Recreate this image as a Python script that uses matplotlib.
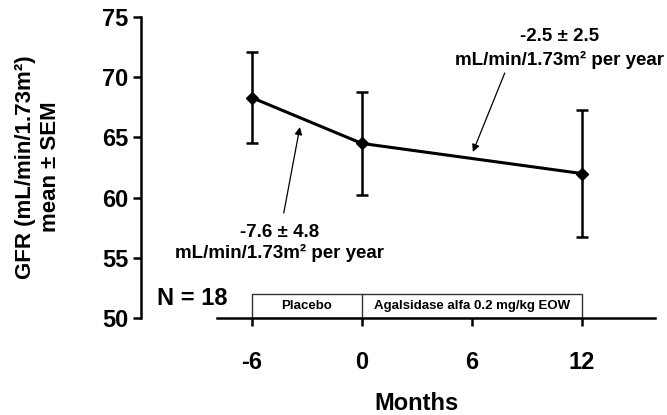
import matplotlib
matplotlib.use("Agg")
import matplotlib.pyplot as plt
from matplotlib.patches import Rectangle

plt.rcParams['font.family'] = ['Liberation Sans', 'DejaVu Sans']
plt.rcParams['font.weight'] = 'bold'

# Data
months = [-6, 0, 12]
gfr_mean = [68.3, 64.5, 62.0]
gfr_sem = [3.8, 4.3, 5.3]
x_ticks = [-6, 0, 6, 12]
y_ticks = [50, 55, 60, 65, 70, 75]
phases = ["Placebo", "Agalsidase alfa 0.2 mg/kg EOW"]
phase_bounds = [-6, 0, 12]
slope_placebo = "-7.6 ± 4.8"
slope_treat = "-2.5 ± 2.5"
unit_line = "mL/min/1.73m² per year"

W, H = 667, 415
fig = plt.figure(figsize=(W / 100, H / 100), dpi=100)
left_px, right_px, top_px, bot_px = 141, 655, 17, 318
ax = fig.add_axes([left_px / W, (H - bot_px) / H,
                   (right_px - left_px) / W, (bot_px - top_px) / H])
ax.set_xlim(-12.05, 16.0)
ax.set_ylim(50, 75)

ax.errorbar(months, gfr_mean, yerr=gfr_sem, color='black', lw=2.2,
            marker='D', markersize=6.5, elinewidth=1.8, capsize=4.5,
            capthick=1.8, zorder=3)

for s in ['top', 'right']:
    ax.spines[s].set_visible(False)
ax.spines['left'].set_linewidth(1.8)
ax.spines['bottom'].set_linewidth(1.8)
ax.spines['bottom'].set_bounds(-7.9, 16.0)

ax.set_xticks(x_ticks)
ax.set_xticklabels([str(t) for t in x_ticks])
ax.set_yticks(y_ticks)
ax.set_yticklabels([str(t) for t in y_ticks])
ax.tick_params(axis='x', direction='out', length=6, width=1.8, pad=18,
               labelsize=17)
ax.tick_params(axis='y', direction='out', length=6, width=1.8, pad=3,
               labelsize=17)
for lab in ax.get_xticklabels() + ax.get_yticklabels():
    lab.set_fontweight('bold')

# Treatment phase box
box = Rectangle((phase_bounds[0], 50), phase_bounds[-1] - phase_bounds[0], 2.0,
                fill=False, edgecolor='#333333', lw=1.0, zorder=2)
ax.add_patch(box)
ax.plot([phase_bounds[1], phase_bounds[1]], [50, 52], color='#333333', lw=1.0)
for i, name in enumerate(phases):
    cx = (phase_bounds[i] + phase_bounds[i + 1]) / 2
    ax.text(cx, 51.0, name, ha='center', va='center', fontsize=9.5,
            fontweight='bold')

ax.text(-11.18, 51.66, "N = 18", ha='left', va='center', fontsize=17,
        fontweight='bold')

# Annotations
ax.text(10.8, 73.34, slope_treat, ha='center', va='center', fontsize=13.5,
        fontweight='bold')
ax.text(10.8, 71.43, unit_line, ha='center', va='center', fontsize=13.5,
        fontweight='bold')
ax.annotate("", xy=(6.06, 63.79), xytext=(7.8, 70.35),
            arrowprops=dict(arrowstyle='-|>', lw=0.9, color='black',
                            mutation_scale=11, shrinkA=0, shrinkB=0))

ax.text(-4.47, 57.14, slope_placebo, ha='center', va='center', fontsize=13.5,
        fontweight='bold')
ax.text(-4.47, 55.4, unit_line, ha='center', va='center', fontsize=13.5,
        fontweight='bold')
ax.annotate("", xy=(-3.38, 65.86), xytext=(-4.26, 58.72),
            arrowprops=dict(arrowstyle='-|>', lw=0.9, color='black',
                            mutation_scale=11, shrinkA=0, shrinkB=0))

# Axis labels
fig.text(38 / W, 1 - 167 / H, "GFR (mL/min/1.73m²)\nmean ± SEM", rotation=90,
         ha='center', va='center', fontsize=16, fontweight='bold',
         multialignment='center', linespacing=1.2)
fig.text(417 / W, 1 - 403 / H, "Months", ha='center', va='center',
         fontsize=17, fontweight='bold')

fig.savefig("out.png", dpi=100)
